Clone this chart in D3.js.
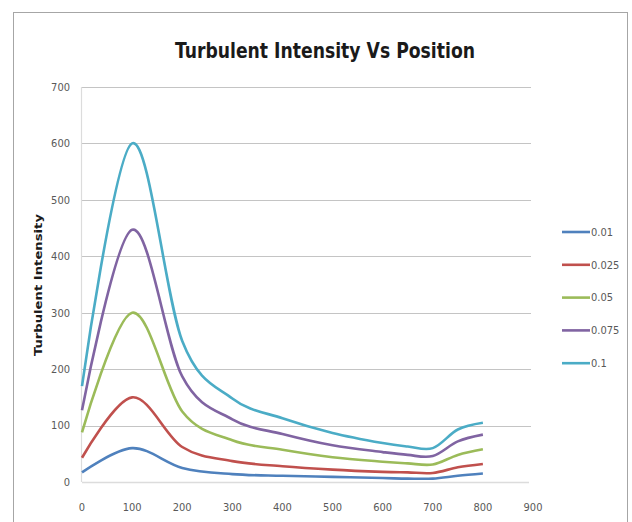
<!DOCTYPE html>
<html>
<head>
<meta charset="utf-8">
<script src="https://cdn.jsdelivr.net/npm/d3@7"></script>
<style>
  body { margin: 0; background: #ffffff; }
  text { font-family: "Liberation Sans Narrow", "DejaVu Sans Condensed", "Liberation Sans", sans-serif; }
</style>
</head>
<body>
<div id="chart"></div>
<script>
// #####################################################
// Data
//
var positions = [0, 100, 200, 300, 400, 500, 600, 650, 700, 750, 800];

var series001  = [17, 60, 25, 14, 11, 9, 7, 6, 6, 11, 15];
var series0025 = [43, 150, 62, 37, 28, 22, 18, 17, 16, 26, 32];
var series005  = [88, 300, 125, 74, 57, 44, 36, 33, 31, 48, 58];
var series0075 = [127, 447, 187, 111, 85, 65, 53, 48, 46, 72, 84];
var series01   = [170, 600, 250, 148, 113, 87, 69, 63, 60, 93, 105];

var seriesNames = ['0.01', '0.025', '0.05', '0.075', '0.1'];
var seriesColors = ['#4F81BD', '#C0504D', '#9BBB59', '#8064A2', '#4BACC6'];

var xTicks = [0, 100, 200, 300, 400, 500, 600, 700, 800, 900];
var yTicks = [0, 100, 200, 300, 400, 500, 600, 700];

// #####################################################
// Plot data
//
function plot_data () {
  var allSeries = [series001, series0025, series005, series0075, series01];

  var svg = d3.select('#chart').append('svg')
      .attr('width', 632)
      .attr('height', 522);

  // chart area border
  svg.append('rect')
      .attr('x', 13.5)
      .attr('y', 12.5)
      .attr('width', 614)
      .attr('height', 520)
      .style('fill', '#ffffff')
      .style('stroke', '#a6a6a6')
      .attr('stroke-width', 1);

  // set the scales
  var x = d3.scaleLinear().domain([0, 900]).range([82, 533]);
  var y = d3.scaleLinear().domain([0, 700]).range([482, 87]);

  // gridlines
  svg.selectAll('line.grid')
      .data(yTicks.filter(function (d) { return d > 0; }))
      .enter().append('line')
        .attr('class', 'grid')
        .attr('x1', x(0))
        .attr('x2', x(900) - 2)
        .attr('y1', function (d) { return Math.round(y(d)) + 0.5; })
        .attr('y2', function (d) { return Math.round(y(d)) + 0.5; })
        .style('stroke', '#c4c4c4')
        .attr('stroke-width', 1.2);

  // x axis line and y axis line
  svg.append('line')
      .attr('x1', x(0)).attr('x2', x(900) - 4)
      .attr('y1', Math.round(y(0)) + 0.5).attr('y2', Math.round(y(0)) + 0.5)
      .style('stroke', '#dcdcdc')
      .attr('stroke-width', 1.5);

  svg.append('line')
      .attr('x1', x(0) - 0.5).attr('x2', x(0) - 0.5)
      .attr('y1', y(700)).attr('y2', y(0))
      .style('stroke', '#dcdcdc')
      .attr('stroke-width', 1.2);

  // y tick labels
  svg.selectAll('text.ytick')
      .data(yTicks)
      .enter().append('text')
        .attr('class', 'ytick')
        .attr('x', 70)
        .attr('y', function (d) { return y(d); })
        .attr('dy', '0.35em')
        .style('text-anchor', 'end')
        .style('font-size', '11px')
        .style('fill', '#595959')
        .text(function (d) { return d; });

  // x tick labels
  svg.selectAll('text.xtick')
      .data(xTicks)
      .enter().append('text')
        .attr('class', 'xtick')
        .attr('x', function (d) { return x(d); })
        .attr('y', 511)
        .style('text-anchor', 'middle')
        .style('font-size', '11px')
        .style('fill', '#595959')
        .text(function (d) { return d; });

  // the lines (smoothed like the spreadsheet)
  var line = d3.line()
      .x(function (d) { return x(d[0]); })
      .y(function (d) { return y(d[1]); })
      .curve(d3.curveCardinal.tension(0));

  for (var i=0; i<allSeries.length; i++) {
    var pts = positions.map(function (p, j) { return [p, allSeries[i][j]]; });
    svg.append('path')
        .datum(pts)
        .attr('d', line)
        .style('fill', 'none')
        .style('stroke', seriesColors[i])
        .attr('stroke-width', 2.6)
        .attr('stroke-linejoin', 'round');
  };

  // title
  svg.append('text')
      .attr('x', 325)
      .attr('y', 58)
      .attr('textLength', 300)
      .attr('lengthAdjust', 'spacingAndGlyphs')
      .style('text-anchor', 'middle')
      .style('font-size', '22px')
      .style('font-weight', 'bold')
      .style('fill', '#1a1a1a')
      .text('Turbulent Intensity Vs Position');

  // y axis title
  svg.append('text')
      .attr('transform', 'translate(42,285) rotate(-90)')
      .attr('textLength', 142)
      .attr('lengthAdjust', 'spacingAndGlyphs')
      .style('text-anchor', 'middle')
      .style('font-size', '11px')
      .style('font-weight', 'bold')
      .style('fill', '#1a1a1a')
      .text('Turbulent Intensity');

  // Legend
  var legend = svg.selectAll('g.legend')
      .data(seriesNames)
      .enter().append('g')
        .attr('class', 'legend')
        .attr('transform', function (d, i) { return 'translate(562,' + (232 + i * 32.8) + ')'; });

  legend.append('line')
      .attr('x1', 0).attr('x2', 28)
      .attr('y1', 0).attr('y2', 0)
      .style('stroke', function (d, i) { return seriesColors[i]; })
      .attr('stroke-width', 2.6);

  legend.append('text')
      .attr('x', 29)
      .attr('y', 0)
      .attr('dy', '0.35em')
      .style('font-size', '11px')
      .style('fill', '#595959')
      .text(function (d) { return d; });
};

plot_data();
</script>
</body>
</html>
